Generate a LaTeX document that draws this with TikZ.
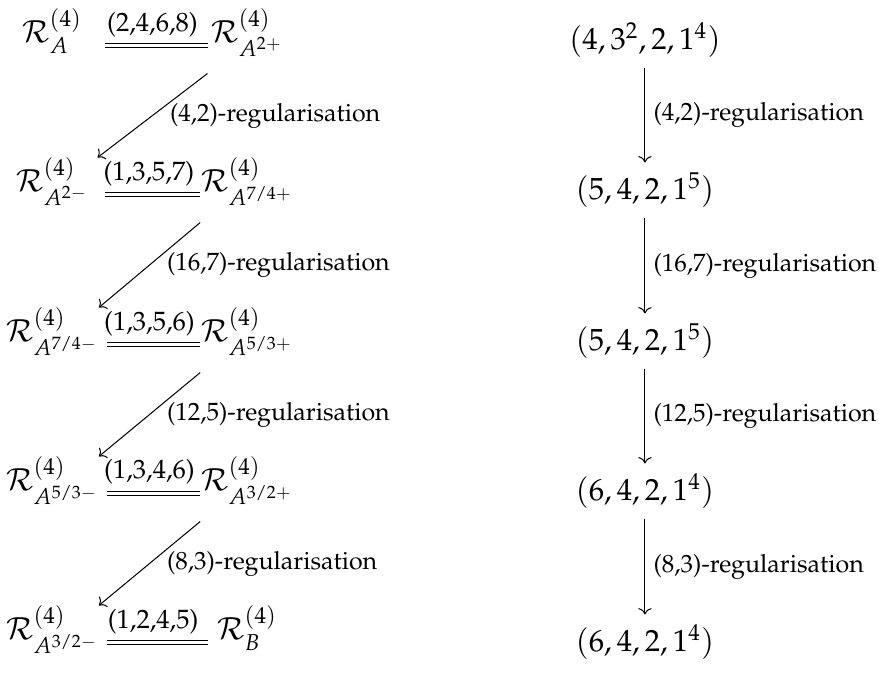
\documentclass[tikz,border=0pt]{standalone}
\usepackage[T1]{fontenc}
\usepackage{mathpazo}
\usepackage{amsmath}
\usetikzlibrary{arrows.meta}

\begin{document}
\begin{tikzpicture}[
  x=1cm,
  y=1cm,
  map/.style={
    line width=0.4pt,
    -{Computer Modern Rightarrow}
  },
  eq line/.style={
    double,
    double distance=1pt,
    line width=0.4pt,
    shorten <=3.1pt
  },
  mod node/.style={
    font=\large,
    anchor=base,
    inner sep=0pt,
    text height=13.3pt,
    text depth=11.8pt
  },
  left mod/.style={mod node, minimum width=35.3pt},
  right mod/.style={mod node, minimum width=30.6pt},
  part node/.style={
    font=\large,
    anchor=base,
    inner sep=0pt,
    text height=14.5pt,
    text depth=6.7pt
  },
  map label/.style={
    font=\fontsize{9.8}{12}\selectfont,
    inner sep=1pt,
    anchor=west
  },
  eq label/.style={
    font=\fontsize{10.4}{12}\selectfont,
    inner sep=0pt,
    anchor=south,
    yshift=3.3pt
  }
]

\useasboundingbox (0,0) rectangle (12.116,9.276);

% Left diagram: the modules and their identifications.
\node[left mod]  (l1) at (0.717,8.684) {$\mathcal{R}^{(4)}_{A}$};
\node[right mod] (r1) at (3.405,8.684) {$\mathcal{R}^{(4)}_{A^{2+}}$};
\node[left mod]  (l2) at (0.717,6.630) {$\mathcal{R}^{(4)}_{A^{2-}}$};
\node[right mod] (r2) at (3.405,6.630) {$\mathcal{R}^{(4)}_{A^{7/4+}}$};
\node[left mod]  (l3) at (0.717,4.562) {$\mathcal{R}^{(4)}_{A^{7/4-}}$};
\node[right mod] (r3) at (3.405,4.562) {$\mathcal{R}^{(4)}_{A^{5/3+}}$};
\node[left mod]  (l4) at (0.717,2.509) {$\mathcal{R}^{(4)}_{A^{5/3-}}$};
\node[right mod] (r4) at (3.405,2.509) {$\mathcal{R}^{(4)}_{A^{3/2+}}$};
\node[left mod]  (l5) at (0.717,0.455) {$\mathcal{R}^{(4)}_{A^{3/2-}}$};
\node[right mod] (r5) at (3.405,0.455) {$\mathcal{R}^{(4)}_{B}$};

\draw[eq line] ([yshift=-1pt]l1.base east) --
  node[eq label] {(2,4,6,8)} ([yshift=-1pt]r1.base west);
\draw[eq line] ([yshift=-1pt]l2.base east) --
  node[eq label] {(1,3,5,7)} ([yshift=-1pt]r2.base west);
\draw[eq line] ([yshift=-1pt]l3.base east) --
  node[eq label] {(1,3,5,6)} ([yshift=-1pt]r3.base west);
\draw[eq line] ([yshift=-1pt]l4.base east) --
  node[eq label] {(1,3,4,6)} ([yshift=-1pt]r4.base west);
\draw[eq line] ([yshift=-1pt]l5.base east) --
  node[eq label] {(1,2,4,5)} ([yshift=-1pt]r5.base west);

% regularisation maps going down to the next row
\draw[map] (r1.south west) --
  node[map label, xshift=5.7pt] {(4,2)-regularisation} (l2.north east);
\draw[map] (r2.south west) --
  node[map label, xshift=5.7pt] {(16,7)-regularisation} (l3.north east);
\draw[map] (r3.south west) --
  node[map label, xshift=5.7pt] {(12,5)-regularisation} (l4.north east);
\draw[map] (r4.south west) --
  node[map label, xshift=5.7pt] {(8,3)-regularisation} (l5.north east);

% Right diagram: the partitions.
\node[part node] (p1) at (8.890,8.587) {$(4,3^2,2,1^4)$};
\node[part node] (p2) at (8.890,6.520) {$(5,4,2,1^5)$};
\node[part node] (p3) at (8.890,4.438) {$(5,4,2,1^5)$};
\node[part node] (p4) at (8.890,2.371) {$(6,4,2,1^4)$};
\node[part node] (p5) at (8.890,0.289) {$(6,4,2,1^4)$};

\draw[map] (p1) --
  node[map label, xshift=2.2pt] {(4,2)-regularisation} (p2);
\draw[map] (p2) --
  node[map label, xshift=2.2pt] {(16,7)-regularisation} (p3);
\draw[map] (p3) --
  node[map label, xshift=2.2pt] {(12,5)-regularisation} (p4);
\draw[map] (p4) --
  node[map label, xshift=2.2pt] {(8,3)-regularisation} (p5);

\end{tikzpicture}
\end{document}
